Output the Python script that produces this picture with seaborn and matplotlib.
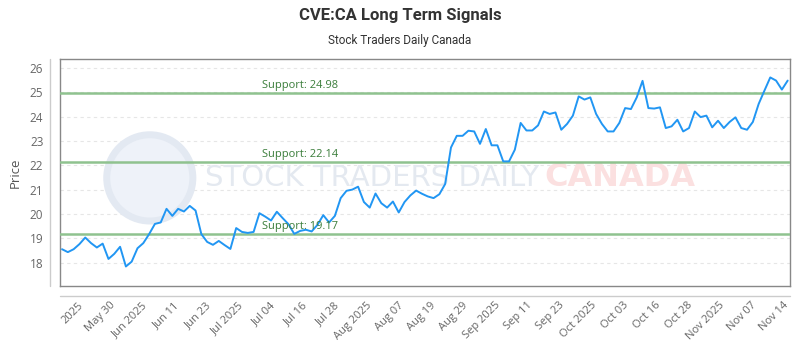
import numpy as np
import pandas as pd
import seaborn as sns
import matplotlib.pyplot as plt
from matplotlib.lines import Line2D
from matplotlib.patches import Ellipse
import matplotlib.transforms as mtransforms

# Closing prices (one per trading day)
prices = [18.55, 18.43, 18.55, 18.76, 19.03, 18.80, 18.62, 18.78, 18.15, 18.36,
          18.65, 17.84, 18.04, 18.59, 18.80, 19.17, 19.59, 19.65, 20.21, 19.92,
          20.21, 20.10, 20.33, 20.14, 19.17, 18.85, 18.73, 18.89, 18.72, 18.56,
          19.42, 19.26, 19.22, 19.26, 20.03, 19.89, 19.73, 20.09, 19.83, 19.58,
          19.18, 19.30, 19.35, 19.28, 19.55, 19.95, 19.65, 19.92, 20.65, 20.95,
          21.00, 21.12, 20.49, 20.26, 20.84, 20.44, 20.26, 20.51, 20.06, 20.49,
          20.76, 20.96, 20.83, 20.72, 20.65, 20.81, 21.23, 22.73, 23.21, 23.21,
          23.42, 23.39, 22.88, 23.49, 22.82, 22.82, 22.16, 22.16, 22.64, 23.74,
          23.43, 23.43, 23.64, 24.21, 24.11, 24.17, 23.46, 23.70, 24.04, 24.83,
          24.70, 24.79, 24.11, 23.70, 23.39, 23.39, 23.74, 24.35, 24.31, 24.79,
          25.47, 24.35, 24.33, 24.38, 23.53, 23.60, 23.87, 23.39, 23.53, 24.21,
          23.98, 24.04, 23.56, 23.83, 23.53, 23.78, 23.97, 23.53, 23.46, 23.78,
          24.52, 25.07, 25.61, 25.48, 25.11, 25.48]

supports = [24.98, 22.14, 19.17]

x_labels = ["2025", "May 30", "Jun 2025", "Jun 11", "Jun 23", "Jul 2025", "Jul 04",
            "Jul 16", "Jul 28", "Aug 2025", "Aug 07", "Aug 19", "Aug 29", "Sep 2025",
            "Sep 11", "Sep 23", "Oct 2025", "Oct 03", "Oct 16", "Oct 28", "Nov 2025",
            "Nov 07", "Nov 14"]
y_ticks = [18, 19, 20, 21, 22, 23, 24, 25, 26]

df = pd.DataFrame({"day": np.arange(len(prices)), "price": prices})

sns.set_style("white")
plt.rcParams['font.family'] = ['Open Sans', 'DejaVu Sans']

fig = plt.figure(figsize=(8, 3.5), dpi=100)
ax = fig.add_axes([0.075, 0.183, 0.9125, 0.6486])

# watermark (logo + text), kept under the data
ax.add_patch(Ellipse((0.123, 0.476), 0.118, 0.38, transform=ax.transAxes,
                     facecolor="#eef2f9", edgecolor="#e3e9f2", lw=5, zorder=1))
ax.text(0.199, 0.476, "STOCK TRADERS DAILY", transform=ax.transAxes, family=['DejaVu Sans'],
        fontsize=21, color="#e4e9f0", va="center", ha="left", zorder=1)
ax.text(0.664, 0.476, "CANADA", transform=ax.transAxes, family=['DejaVu Sans'],
        fontsize=23, fontweight="bold", color="#fbe0e0", va="center", ha="left", zorder=1)

sns.lineplot(data=df, x="day", y="price", ax=ax, color="#2196f3", linewidth=1.4, zorder=4)

blend = mtransforms.blended_transform_factory(ax.transAxes, ax.transData)
for s in supports:
    ax.axhline(s, color="#8fc28f", linewidth=1.8, zorder=3)
    ax.text(0.277, s + 0.08, f"Support: {s:.2f}", transform=blend,
            fontsize=8, color="#3a7d3a", va="bottom", ha="left", zorder=5)

ax.set_xlim(-0.35, len(prices) - 0.6)
ax.set_ylim(17.04, 26.37)
ax.set_yticks(y_ticks)
ax.set_yticklabels([str(v) for v in y_ticks], fontsize=8.5, color="#666666")
ax.yaxis.grid(True, linestyle=(0, (3, 3)), color="#e6e6e6", linewidth=0.8, zorder=0)
ax.set_axisbelow(True)
ax.tick_params(axis="y", length=0, pad=12)

tick_pos = np.linspace(2.7, 124.2, len(x_labels))
ax.set_xticks(tick_pos)
ax.set_xticklabels(x_labels, rotation=45, ha="right", rotation_mode="anchor",
                   fontsize=8, color="#666666")
ax.tick_params(axis="x", length=0, pad=10)

ax.set_xlabel("")
ax.set_ylabel("Price", fontsize=9.5, color="#555555", labelpad=6)

for sp in ax.spines.values():
    sp.set_visible(True)
    sp.set_color("#888888")
    sp.set_linewidth(1)

# outer axis lines
fig.add_artist(Line2D([0.0625, 0.0625], [0.183, 0.8314], transform=fig.transFigure, color="#cccccc", lw=1))
fig.add_artist(Line2D([0.075, 0.9875], [0.154, 0.154], transform=fig.transFigure, color="#cccccc", lw=1))

fig.text(0.5, 0.955, "CVE:CA Long Term Signals", ha="center", va="center",
         family=['Roboto', 'DejaVu Sans'], fontweight="bold", fontsize=12, color="#333333")
fig.text(0.5, 0.885, "Stock Traders Daily Canada", ha="center", va="center",
         family=['Roboto', 'DejaVu Sans'], fontsize=8.5, color="#333333")

fig.savefig("out.png", dpi=100)
